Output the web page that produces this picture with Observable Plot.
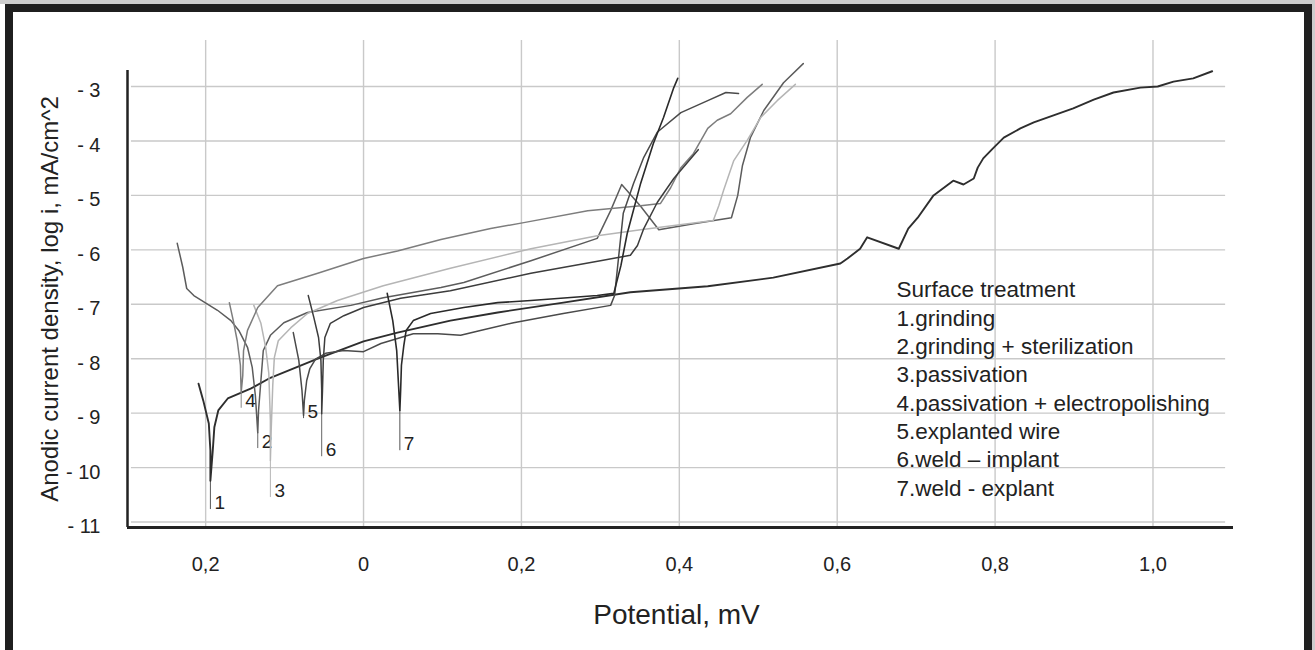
<!DOCTYPE html>
<html><head><meta charset="utf-8">
<script src="https://cdn.jsdelivr.net/npm/d3@7"></script>
<script src="https://cdn.jsdelivr.net/npm/@observablehq/plot@0.6"></script>
<style>
html,body{margin:0;padding:0;background:#fff;}
#page{position:relative;width:1315px;height:650px;overflow:hidden;background:#fff;}
.strip-top{position:absolute;left:0;top:0;width:1315px;height:4px;background:#cdcdcd;}
.strip-right{position:absolute;right:0;top:0;width:3px;height:650px;background:#cdcdcd;}
.border{position:absolute;left:5px;top:4px;width:1307px;height:720px;border:8px solid #1f1f1f;box-sizing:border-box;}
#chart{position:absolute;left:0;top:0;}
</style></head>
<body><div id="page"><div class="strip-top"></div><div class="strip-right"></div><div class="border"></div><div id="chart"></div></div>
<script>
// ---- axes / ticks ----
const xDomain = [-0.299, 1.102];
const yDomain = [-11.1, -2.706];
const xTicks = [-0.2, 0, 0.2, 0.4, 0.6, 0.8, 1.0];
const xTickLabels = ["0,2", "0", "0,2", "0,4", "0,6", "0,8", "1,0"];
const yTicks = [-3, -4, -5, -6, -7, -8, -9, -10, -11];
const yTickLabels = ["- 3", "- 4", "- 5", "- 6", "- 7", "- 8", "- 9", "- 10", "- 11"];
const gridXExtent = [-0.294, 1.092];
const gridYTop = -2.155;

const xTitle = "Potential, mV";
const yTitle = "Anodic current density, log i, mA/cm^2";
const legendLines = [
  "Surface treatment",
  "1.grinding",
  "2.grinding + sterilization",
  "3.passivation",
  "4.passivation + electropolishing",
  "5.explanted wire",
  "6.weld \u2013 implant",
  "7.weld - explant"
];

// ---- curves: [potential, log i] ----
const grinding = [[-0.209,-8.46],[-0.203,-8.77],[-0.196,-9.19],[-0.194,-9.69],[-0.194,-10.24],[-0.191,-9.69],[-0.189,-9.26],[-0.184,-8.95],[-0.172,-8.73],[-0.143,-8.55],[-0.118,-8.35],[-0.058,-8.00],[0.000,-7.68],[0.043,-7.52],[0.110,-7.30],[0.170,-7.15],[0.253,-6.97],[0.338,-6.78],[0.436,-6.67],[0.519,-6.51],[0.604,-6.25],[0.613,-6.16],[0.629,-5.98],[0.638,-5.77],[0.678,-5.98],[0.690,-5.61],[0.702,-5.41],[0.722,-5.00],[0.747,-4.73],[0.760,-4.80],[0.773,-4.69],[0.778,-4.49],[0.785,-4.32],[0.797,-4.14],[0.811,-3.94],[0.832,-3.77],[0.849,-3.66],[0.874,-3.53],[0.899,-3.40],[0.925,-3.24],[0.950,-3.11],[0.984,-3.02],[1.006,-3.00],[1.026,-2.91],[1.051,-2.85],[1.075,-2.72]];
const grindingSter = [[-0.236,-5.88],[-0.229,-6.32],[-0.224,-6.71],[-0.215,-6.84],[-0.185,-7.11],[-0.168,-7.30],[-0.158,-7.48],[-0.147,-7.79],[-0.141,-8.16],[-0.137,-8.68],[-0.134,-9.36],[-0.133,-8.95],[-0.130,-8.40],[-0.127,-7.85],[-0.118,-7.57],[-0.101,-7.34],[-0.071,-7.15],[-0.016,-7.02],[0.025,-6.88],[0.098,-6.69],[0.127,-6.60],[0.212,-6.20],[0.296,-5.79],[0.313,-5.28],[0.327,-4.80],[0.351,-5.20],[0.374,-5.63],[0.418,-5.52],[0.466,-5.41],[0.474,-5.00],[0.480,-4.45],[0.490,-3.94],[0.507,-3.44],[0.532,-2.93],[0.557,-2.58]];
const passivation = [[-0.139,-7.02],[-0.130,-7.35],[-0.124,-7.79],[-0.120,-8.27],[-0.118,-9.14],[-0.118,-9.87],[-0.117,-9.32],[-0.115,-8.49],[-0.113,-7.98],[-0.108,-7.67],[-0.092,-7.43],[-0.071,-7.17],[-0.033,-6.93],[0.025,-6.66],[0.110,-6.34],[0.212,-5.98],[0.296,-5.74],[0.351,-5.63],[0.443,-5.46],[0.450,-5.19],[0.456,-4.91],[0.469,-4.36],[0.486,-3.99],[0.503,-3.57],[0.524,-3.26],[0.547,-2.96]];
const passElectro = [[-0.170,-6.97],[-0.165,-7.30],[-0.160,-7.67],[-0.156,-8.12],[-0.155,-8.62],[-0.153,-8.31],[-0.152,-7.85],[-0.147,-7.48],[-0.134,-7.06],[-0.109,-6.66],[-0.058,-6.43],[0.000,-6.16],[0.043,-6.02],[0.098,-5.81],[0.161,-5.61],[0.203,-5.50],[0.284,-5.28],[0.351,-5.19],[0.376,-5.15],[0.389,-4.86],[0.402,-4.49],[0.418,-4.23],[0.436,-3.77],[0.448,-3.62],[0.465,-3.50],[0.486,-3.20],[0.505,-2.96]];
const explantedWire = [[-0.089,-7.52],[-0.082,-8.03],[-0.078,-8.58],[-0.076,-9.04],[-0.075,-8.77],[-0.072,-8.40],[-0.068,-8.18],[-0.061,-8.01],[-0.048,-7.90],[-0.025,-7.85],[0.000,-7.87],[0.022,-7.72],[0.063,-7.54],[0.094,-7.54],[0.123,-7.57],[0.148,-7.48],[0.190,-7.34],[0.253,-7.17],[0.313,-7.02],[0.318,-6.84],[0.324,-6.01],[0.329,-5.33],[0.342,-4.78],[0.355,-4.30],[0.372,-3.84],[0.402,-3.48],[0.436,-3.26],[0.459,-3.11],[0.475,-3.13]];
const weldImplant = [[-0.070,-6.84],[-0.063,-7.24],[-0.057,-7.61],[-0.054,-8.03],[-0.053,-8.58],[-0.053,-9.01],[-0.052,-8.58],[-0.051,-8.03],[-0.049,-7.61],[-0.042,-7.35],[-0.025,-7.21],[0.000,-7.06],[0.047,-6.89],[0.110,-6.75],[0.212,-6.43],[0.300,-6.20],[0.338,-6.10],[0.347,-5.92],[0.355,-5.61],[0.372,-5.13],[0.393,-4.69],[0.410,-4.40],[0.424,-4.16]];
const weldExplant = [[0.030,-6.80],[0.037,-7.30],[0.042,-7.85],[0.044,-8.40],[0.046,-8.95],[0.047,-8.58],[0.048,-8.12],[0.051,-7.76],[0.054,-7.48],[0.063,-7.30],[0.085,-7.17],[0.127,-7.06],[0.170,-6.97],[0.212,-6.93],[0.296,-6.84],[0.317,-6.80],[0.326,-6.29],[0.334,-5.70],[0.351,-4.78],[0.367,-4.05],[0.380,-3.57],[0.393,-3.02],[0.398,-2.85]];

const curveNames = ["1", "2", "3", "4", "5", "6", "7"];
const curveData = [grinding, grindingSter, passivation, passElectro, explantedWire, weldImplant, weldExplant];
// lower end of each curve's label leader line (log i)
const tailY = [-10.77, -9.65, -10.55, -8.91, -9.10, -9.80, -9.69];

const curveColors = ["#2e2e2e", "#5c5c5c", "#b5b5b5", "#7d7d7d", "#4a4a4a", "#3c3c3c", "#2a2a2a"];
const curveWidths = [1.9, 1.5, 1.5, 1.5, 1.5, 1.5, 1.6];
const leaderColors = ["#555", "#666", "#b5b5b5", "#888", "#555", "#666", "#555"];

const marks = [];
// grid
marks.push(Plot.ruleY(yTicks, {x1: gridXExtent[0], x2: gridXExtent[1], stroke: "#c9c9c9", strokeWidth: 1.4}));
marks.push(Plot.ruleX(xTicks, {y1: yDomain[0], y2: gridYTop, stroke: "#c9c9c9", strokeWidth: 1.4}));

curveData.forEach((pts, i) => {
  const rows = pts.map(([x, y]) => ({x, y}));
  const dip = rows.reduce((a, b) => (b.y < a.y ? b : a));
  const leader = [{x: dip.x, y1: dip.y, y2: tailY[i], label: curveNames[i]}];
  marks.push(Plot.ruleX(leader, {x: "x", y1: "y1", y2: "y2", stroke: leaderColors[i], strokeWidth: 1}));
  marks.push(Plot.line(rows, {x: "x", y: "y", stroke: curveColors[i], strokeWidth: curveWidths[i], strokeLinejoin: "round", strokeLinecap: "round"}));
  marks.push(Plot.text(leader, {x: "x", y: "y2", text: "label", dx: 4, dy: -1, lineAnchor: "bottom", textAnchor: "start", fontSize: 19, fill: "#222"}));
});

// axis lines
marks.push(Plot.ruleX([xDomain[0]], {y1: yDomain[0], y2: yDomain[1], stroke: "#222", strokeWidth: 2.5}));
marks.push(Plot.ruleY([yDomain[0]], {x1: xDomain[0], x2: xDomain[1], stroke: "#222", strokeWidth: 2.8}));

const yLab = new Map(yTicks.map((t, i) => [t, yTickLabels[i]]));
const xLab = new Map(xTicks.map((t, i) => [t, xTickLabels[i]]));
marks.push(Plot.axisY(yTicks, {anchor: "left", tickSize: 0, tickPadding: 27, fontSize: 20, dy: 4.5, tickFormat: d => yLab.get(d), label: null, color: "#222"}));
marks.push(Plot.axisX(xTicks, {anchor: "bottom", tickSize: 0, tickPadding: 29, fontSize: 20, tickFormat: d => xLab.get(d), label: null, color: "#222"}));

// titles
marks.push(Plot.text([yTitle], {text: d => d, frameAnchor: "left", rotate: -90, dx: -70, lineAnchor: "bottom", textAnchor: "middle", fontSize: 24, fill: "#222"}));
marks.push(Plot.text([xTitle], {text: d => d, frameAnchor: "bottom", dx: -4, dy: 96, lineAnchor: "bottom", textAnchor: "middle", fontSize: 28, fill: "#222"}));

// legend
marks.push(Plot.text([legendLines.join("\n")], {text: d => d, frameAnchor: "top-left", dx: 769, dy: 425, lineAnchor: "bottom", textAnchor: "start", lineHeight: 1.259, fontSize: 22.5, fill: "#222"}));

const chart = Plot.plot({
  width: 1315,
  height: 650,
  marginLeft: 127,
  marginRight: 82,
  marginTop: 70,
  marginBottom: 123,
  x: {domain: xDomain},
  y: {domain: yDomain},
  style: {background: "transparent", fontFamily: "'Liberation Sans', Arial, Helvetica, sans-serif", overflow: "visible"},
  marks
});
document.getElementById("chart").appendChild(chart);
</script>
</body></html>
